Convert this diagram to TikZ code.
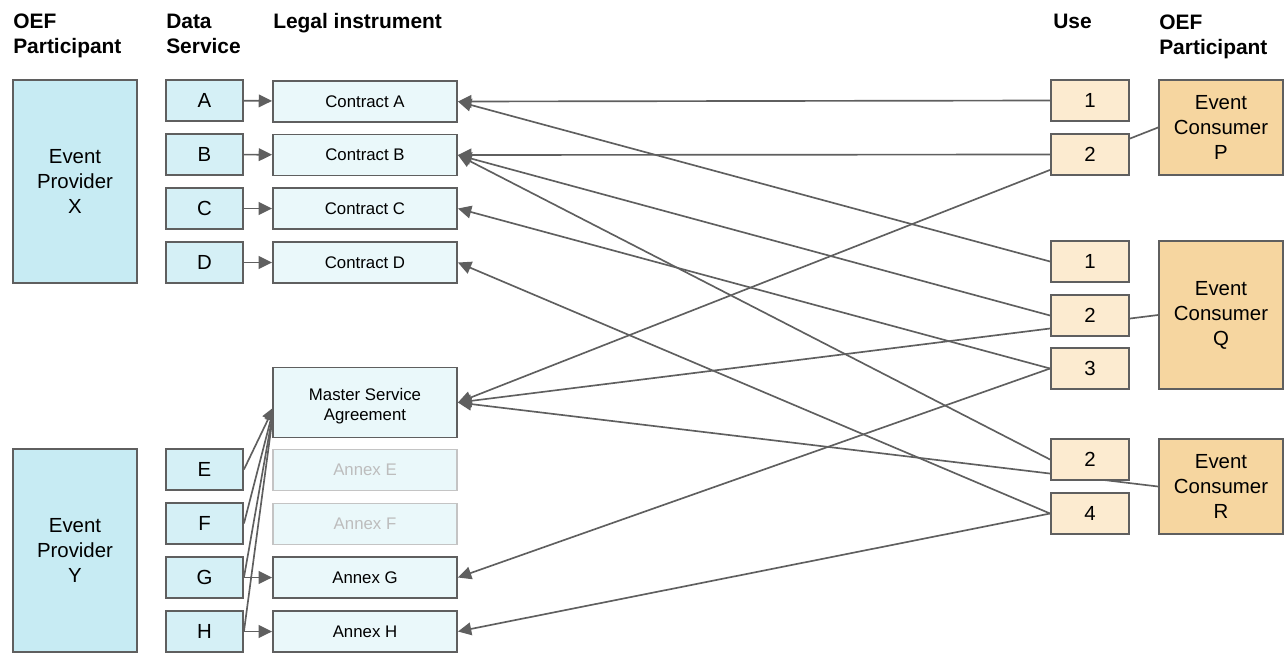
\documentclass[tikz,border=0pt]{standalone}
\usepackage{fontspec}
\setmainfont{Liberation Sans}
\usetikzlibrary{arrows.meta,backgrounds}
\definecolor{edgecol}{HTML}{5F5F5F}
\definecolor{provfill}{HTML}{C7EBF3}
\definecolor{dsfill}{HTML}{D5F0F6}
\definecolor{legfill}{HTML}{EAF8FA}
\definecolor{usefill}{HTML}{FCEBD0}
\definecolor{consfill}{HTML}{F6D6A0}
\definecolor{fadeline}{HTML}{C4C4C4}
\definecolor{fadetext}{HTML}{BDBDBD}
\begin{document}
\begin{tikzpicture}[x=0.75pt,y=-0.75pt,
  box/.style={draw=edgecol,line width=1.4pt,inner sep=0pt,align=center},
  hdr/.style={inner sep=0pt,align=left,font=\fontsize{15.7}{18.75}\selectfont\bfseries},
  prov/.style={box,fill=provfill,minimum width=93pt,minimum height=152.25pt,font=\fontsize{15.3}{18.75}\selectfont},
  ds/.style={box,fill=dsfill,minimum width=57.75pt,minimum height=30.75pt,font=\fontsize{15.3}{18}\selectfont},
  leg/.style={box,fill=legfill,minimum width=138pt,minimum height=30.75pt,font=\fontsize{12.6}{15}\selectfont},
  faded/.style={leg,draw=fadeline,text=fadetext},
  usebox/.style={box,fill=usefill,minimum width=58.5pt,minimum height=30.75pt,font=\fontsize{15.3}{18}\selectfont},
  cons/.style={box,fill=consfill,minimum width=93pt,font=\fontsize{15.3}{18.75}\selectfont},
  conn/.style={draw=edgecol,line width=1.25pt},
  arr/.style={conn,-{Triangle[length=10pt,width=9.5pt]}}
]
\useasboundingbox (0,0) rectangle (1287,657);

% headers
\node[hdr,anchor=north west] (h1) at (13,13.5) {OEF\\Participant};
\node[hdr,anchor=north west] (h2) at (166,13.5) {Data\\Service};
\node[hdr,anchor=north west] (h3) at (273,13.5) {Legal instrument};
\node[hdr,anchor=north west] (h4) at (1053,13.5) {Use};
\node[hdr,anchor=north west] (h5) at (1159,14.5) {OEF\\Participant};

% providers
\node[prov] (X) at (75,181.5) {Event\\Provider\\X};
\node[prov] (Y) at (75,550.5) {Event\\Provider\\Y};

% data services
\node[ds] (A) at (204.5,100.5) {A};
\node[ds] (B) at (204.5,154.5) {B};
\node[ds] (C) at (204.5,208.5) {C};
\node[ds] (D) at (204.5,262.5) {D};
\node[ds] (E) at (204.5,469.5) {E};
\node[ds] (F) at (204.5,523.5) {F};
\node[ds] (G) at (204.5,577.5) {G};
\node[ds] (H) at (204.5,631.5) {H};

% legal instruments
\node[leg] (cA) at (365,101.5) {Contract A};
\node[leg] (cB) at (365,155) {Contract B};
\node[leg] (cC) at (365,208.5) {Contract C};
\node[leg] (cD) at (365,262.5) {Contract D};
\node[leg,minimum height=52.5pt] (msa) at (365,402.5) {\rule{0pt}{14pt}Master Service\\Agreement};
\node[faded] (aE) at (365,470) {Annex E};
\node[faded] (aF) at (365,524) {Annex F};
\node[leg] (aG) at (365,577.5) {Annex G};
\node[leg] (aH) at (365,631.5) {Annex H};
\coordinate (msaIn) at (274,407);

% uses
\node[usebox] (p1) at (1090,100.5) {1};
\node[usebox] (p2) at (1090,154.5) {2};
\node[usebox] (q1) at (1090,261.5) {1};
\node[usebox] (q2) at (1090,315.5) {2};
\node[usebox] (q3) at (1090,368.5) {3};
\node[usebox] (r2) at (1090,459.5) {2};
\node[usebox] (r4) at (1090,513.5) {4};

% consumers
\node[cons,minimum height=71.25pt] (P) at (1221,127.5) {Event\\Consumer\\P};
\node[cons,minimum height=111pt] (Q) at (1221,315) {Event\\Consumer\\Q};
\node[cons,minimum height=71.25pt] (R) at (1221,486.5) {Event\\Consumer\\R};

\begin{scope}[on background layer]
% data service -> legal instrument
\draw[arr] (A) -- (cA);
\draw[arr] (B) -- (cB);
\draw[arr] (C) -- (cC);
\draw[arr] (D) -- (cD);
\draw[arr] (G) -- (aG);
\draw[arr] (H) -- (aH);
\draw[arr] (E.east) -- (msaIn);
\draw[arr] (F.east) -- (msaIn);
\draw[arr] (G.east) -- (msaIn);
\draw[arr] (H.east) -- (msaIn);
% uses -> legal instruments
\draw[arr] (p1.west) -- (cA.east);
\draw[arr] (p2.west) -- (cB.east);
\draw[arr] (q1.west) -- (cA.east);
\draw[arr] (q2.west) -- (cB.east);
\draw[arr] (q3.west) -- (cC.east);
\draw[arr] (q3.west) -- (aG.east);
\draw[arr] (r2.west) -- (cB.east);
\draw[arr] (r4.west) -- (cD.east);
\draw[arr] (r4.west) -- (aH.east);
% consumers -> master service agreement
\draw[arr] (P.west) -- (msa.east);
\draw[arr] (Q.west) -- (msa.east);
\draw[arr] (R.west) -- (msa.east);
\end{scope}
\end{tikzpicture}
\end{document}
